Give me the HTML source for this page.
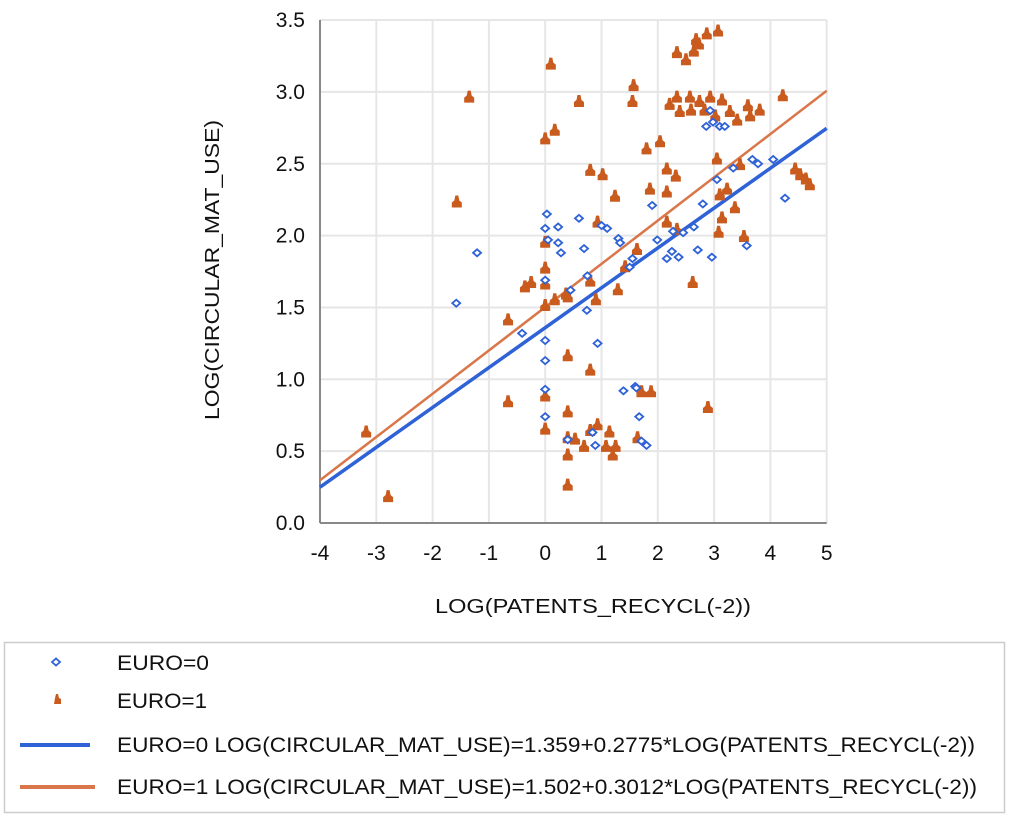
<!DOCTYPE html>
<html><head><meta charset="utf-8"><style>
html,body{margin:0;padding:0;background:#fff;}
svg{display:block;font-family:"Liberation Sans",Arial,sans-serif;}
</style></head><body>
<svg id="chart" width="1009" height="817" viewBox="0 0 1009 817" xmlns="http://www.w3.org/2000/svg">
<g id="grid"></g>
<g id="ticks"></g>
<g id="lines"></g>
<g id="pts"></g>
<text x="0" y="0" transform="translate(219,270) rotate(-90)" text-anchor="middle" font-size="20" fill="#111" textLength="300" lengthAdjust="spacingAndGlyphs">LOG(CIRCULAR_MAT_USE)</text>
<text x="593" y="613" text-anchor="middle" font-size="20" fill="#111" textLength="316" lengthAdjust="spacingAndGlyphs">LOG(PATENTS_RECYCL(-2))</text>
<g>
<rect x="4.5" y="642.5" width="1000" height="170" fill="#fff" stroke="#ccc" stroke-width="1.5"/>
<g>
<path d="M52,662 l4,-3.5 l4,3.5 l-4,3.5z" fill="none" stroke="#2e62d6" stroke-width="1.8"/>
<text x="117" y="670" font-size="21" fill="#111" textLength="92" lengthAdjust="spacingAndGlyphs">EURO=0</text></g>
<g>
<path d="M54,704 h7 v-5 l-2,-1 l-1,-4 h-2 l-1,4z" fill="#c95b1e"/>
<text x="117" y="708" font-size="21" fill="#111" textLength="90" lengthAdjust="spacingAndGlyphs">EURO=1</text></g>
<g>
<line x1="20" y1="745" x2="90" y2="745" stroke="#2e62d6" stroke-width="4"/>
<text x="117" y="752" font-size="21" fill="#111" textLength="858" lengthAdjust="spacingAndGlyphs">EURO=0 LOG(CIRCULAR_MAT_USE)=1.359+0.2775*LOG(PATENTS_RECYCL(-2))</text></g>
<g>
<line x1="20" y1="787" x2="95" y2="787" stroke="#d9774a" stroke-width="4"/>
<text x="117" y="794" font-size="21" fill="#111" textLength="860" lengthAdjust="spacingAndGlyphs">EURO=1 LOG(CIRCULAR_MAT_USE)=1.502+0.3012*LOG(PATENTS_RECYCL(-2))</text></g>
</g>
</svg>
<script>
const xTicks=[-4,-3,-2,-1,0,1,2,3,4,5];
const yTicks=[0,0.5,1,1.5,2,2.5,3,3.5];
const yTickLabels=["0.0","0.5","1.0","1.5","2.0","2.5","3.0","3.5"];
const fit0=[1.359,0.2775];
const fit1=[1.502,0.3012];
const euro0X=[-1.58,-1.21,-0.41,0.03,0,0.05,0,0,0,0,0,0.23,0.23,0.28,0.4,0.6,0.69,0.74,0.84,0.89,0.93,1.0,1.1,1.3,1.33,1.39,1.55,1.6,1.62,1.67,1.71,1.8,1.9,1.99,2.16,2.27,2.25,2.37,2.64,2.71,2.96,3.05,2.86,2.93,2.98,3.1,3.19,3.34,3.68,3.78,4.05,4.26,3.58,0.45,0.75,1.5,2.45,2.8];
const euro0Y=[1.53,1.88,1.32,2.15,2.05,1.97,1.69,1.27,1.13,0.93,0.74,2.06,1.95,1.88,0.58,2.12,1.91,1.48,0.63,0.54,1.25,2.07,2.05,1.98,1.95,0.92,1.84,0.95,0.94,0.74,0.57,0.54,2.21,1.97,1.84,2.03,1.89,1.85,2.06,1.90,1.85,2.39,2.76,2.87,2.79,2.76,2.76,2.47,2.53,2.50,2.53,2.26,1.93,1.62,1.72,1.78,2.02,2.22];
const euro1X=[-3.18,-2.79,-1.57,-1.35,-0.66,-0.66,-0.36,-0.25,0,0.1,0.17,0,0,0,0,0,0,0.17,0.37,0.4,0.4,0.4,0.4,0.4,0.4,0.6,0.53,0.69,0.8,0.8,0.8,0.8,1.02,0.93,0.9,0.93,1.08,1.14,1.2,1.25,1.24,1.29,1.42,1.55,1.57,1.63,1.64,1.71,1.88,1.8,2.04,2.16,2.16,1.86,2.16,2.32,2.34,2.34,2.5,2.64,2.68,2.87,3.07,2.73,2.21,2.34,2.39,2.57,2.59,2.74,2.83,2.93,3.02,3.14,2.62,2.89,3.05,3.1,3.08,3.14,3.23,3.37,3.53,3.28,3.41,3.46,3.6,3.64,3.81,4.22,4.44,4.53,4.63,4.7];
const euro1Y=[0.63,0.18,2.23,2.96,0.84,1.41,1.64,1.67,2.67,3.19,2.73,1.95,1.77,1.66,1.51,0.88,0.65,1.55,1.59,1.57,1.16,0.77,0.59,0.47,0.26,2.93,0.58,0.53,0.64,2.45,1.68,1.06,2.42,2.09,1.55,0.68,0.53,0.63,0.47,0.53,2.27,1.62,1.78,2.93,3.04,1.90,0.59,0.91,0.91,2.60,2.65,2.46,2.30,2.32,2.09,2.41,2.04,3.27,3.22,3.28,3.36,3.40,3.42,3.33,2.91,2.96,2.86,2.96,2.87,2.93,2.87,2.96,2.83,2.94,1.67,0.80,2.53,2.28,2.02,2.12,2.32,2.19,1.99,2.86,2.80,2.49,2.90,2.83,2.87,2.97,2.46,2.42,2.39,2.35];

const NS="http://www.w3.org/2000/svg";
const X0=320,XS=56.3,Y0=523,YS=143.7;
function sx(v){return X0+(v+4)*XS;}
function sy(v){return Y0-v*YS;}
function mk(tag,attrs,parent){const e=document.createElementNS(NS,tag);for(const k in attrs)e.setAttribute(k,attrs[k]);parent.appendChild(e);return e;}
const grid=document.getElementById('grid'),ticks=document.getElementById('ticks'),lines=document.getElementById('lines'),pts=document.getElementById('pts');
xTicks.forEach((t,i)=>{
  if(i>0){const g=mk('line',{x1:sx(t),x2:sx(t),y1:sy(3.5),y2:Y0,stroke:'#e6e6e6','stroke-width':2},grid);
  
  }
  const l=mk('text',{x:sx(t),y:560,'text-anchor':'middle','font-size':21,fill:'#111'},ticks);
  l.textContent=String(t);
  
  
});
yTicks.forEach((t,i)=>{
  if(i>0){const g=mk('line',{x1:X0,x2:sx(5),y1:sy(t),y2:sy(t),stroke:'#e6e6e6','stroke-width':2},grid);
  
  }
  const l=mk('text',{x:305,y:sy(t)+7,'text-anchor':'end','font-size':21,fill:'#111'},ticks);
  l.textContent=yTickLabels[i];
  
  
});
const ya=mk('line',{x1:X0,x2:X0,y1:sy(3.5),y2:Y0,stroke:'#888','stroke-width':2},grid);


const xa=mk('line',{x1:X0,x2:sx(5),y1:Y0,y2:Y0,stroke:'#888','stroke-width':2},grid);


function fitLine(f,color,w,name){
  const l=mk('line',{x1:sx(-4),y1:sy(f[0]+f[1]*-4),x2:sx(5),y2:sy(f[0]+f[1]*5),stroke:color,'stroke-width':w},lines);
  
  
}
fitLine(fit1,'#d9774a',2.5,'fit-line-euro1');
fitLine(fit0,'#2e62d6',3.5,'fit-line-euro0');
euro1X.forEach((v,i)=>{
  const x=sx(v),y=sy(euro1Y[i]);
  const p=mk('path',{d:`M${x-5},${y+5} h10 v-5 l-2.5,-2 l-1,-5 h-3 l-1,5 l-2.5,2z`,fill:'#c95b1e'},pts);
  
  
});
euro0X.forEach((v,i)=>{
  const x=sx(v),y=sy(euro0Y[i]);
  const p=mk('path',{d:`M${x-4},${y} l4,-3.5 l4,3.5 l-4,3.5z`,fill:'#fff',stroke:'#2e62d6','stroke-width':1.8},pts);
  
  
});
</script>
</body></html>
